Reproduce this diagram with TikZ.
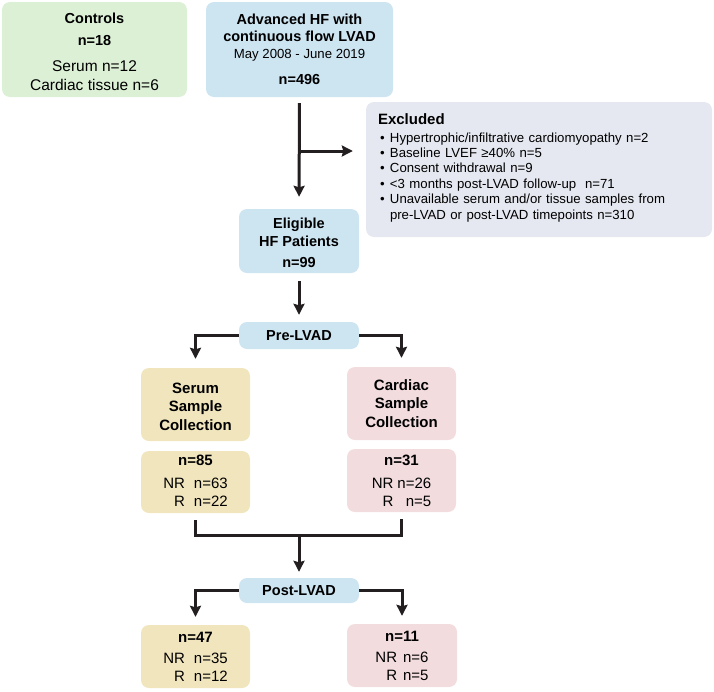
\documentclass[tikz,border=0pt]{standalone}
\usepackage{fontspec}
\setmainfont{Liberation Sans}
\usepackage{xcolor}
\definecolor{hfgreen}{RGB}{220,240,214}
\definecolor{hfblue}{RGB}{205,228,241}
\definecolor{hfgray}{RGB}{229,232,240}
\definecolor{hfyellow}{RGB}{241,229,189}
\definecolor{hfpink}{RGB}{242,220,222}
\definecolor{hfline}{RGB}{35,31,32}
\usetikzlibrary{arrows.meta,calc}

\begin{document}
\begin{tikzpicture}[x=1pt, y=-1pt,
  flowbox/.style={
    rectangle, rounded corners=8pt,
    inner sep=0pt, align=center,
    font=\fontsize{14.5}{17}\selectfont\bfseries,
    text=black
  },
  countbox/.style={flowbox, font=\fontsize{15}{18}\selectfont},
  conn/.style={-{Stealth[length=11pt, width=11pt, inset=1.5pt]}, line width=3pt, draw=hfline},
  link/.style={line width=3pt, draw=hfline}
]
\useasboundingbox (0,0) rectangle (714,691);

% top row
\node[flowbox, fill=hfgreen, minimum width=185pt, minimum height=95pt] (controls) at (94.5,49.5)
  {\rule{0pt}{16pt}Controls\\[5pt]
   n=18\\[9pt]
   {\fontsize{15.5}{19}\selectfont\mdseries Serum n=12}\\[2pt]
   {\fontsize{15.5}{19}\selectfont\mdseries Cardiac tissue n=6}};
\node[flowbox, fill=hfblue, minimum width=187pt, minimum height=95pt] (advhf) at (299.5,49.5)
  {Advanced HF with\\
   continuous flow LVAD\\
   {\fontsize{13.2}{15}\selectfont\mdseries May 2008 - June 2019}\\[9pt]
   n=496};
\node[flowbox, fill=hfgray, minimum width=346pt, minimum height=135pt,
      text width=322pt, align=left, font=\fontsize{13.2}{15.4}\selectfont] (excluded) at (539,169.5)
  {{\fontsize{15}{18}\selectfont\bfseries Excluded}\\[2pt]
   \hspace*{2pt}\makebox[10pt][l]{\textbullet}Hypertrophic/infiltrative cardiomyopathy n=2\\
   \hspace*{2pt}\makebox[10pt][l]{\textbullet}Baseline LVEF ≥40\% n=5\\
   \hspace*{2pt}\makebox[10pt][l]{\textbullet}Consent withdrawal n=9\\
   \hspace*{2pt}\makebox[10pt][l]{\textbullet}<3 months post-LVAD follow-up\ \ n=71\\
   \hspace*{2pt}\makebox[10pt][l]{\textbullet}Unavailable serum and/or tissue samples from\\
   \hspace*{12pt}pre-LVAD or post-LVAD timepoints n=310\rule[-6pt]{0pt}{6pt}};

\node[flowbox, fill=hfblue, minimum width=120pt, minimum height=64pt] (eligible) at (299,241)
  {\rule{0pt}{15pt}Eligible\\[1pt] HF Patients\\[4pt] n=99};
\node[flowbox, fill=hfblue, minimum width=120pt, minimum height=27pt] (pre) at (299,335.5) {Pre-LVAD};

% sample collection
\node[flowbox, fill=hfyellow, minimum width=109pt, minimum height=73pt,
      font=\fontsize{15}{18.5}\selectfont\bfseries] (serum) at (195.5,404.5)
  {\rule{0pt}{15pt}Serum\\ Sample\\ Collection};
\node[flowbox, fill=hfpink, minimum width=109pt, minimum height=73pt,
      font=\fontsize{15}{18.5}\selectfont\bfseries] (cardiac) at (401.5,403.5)
  {Cardiac\\ Sample\\ Collection};
\node[countbox, fill=hfyellow, minimum width=109pt, minimum height=62pt] (serumn) at (195.5,482)
  {\begin{tabular}{@{}r@{\hspace{9pt}}r@{}}
   \multicolumn{2}{@{}c@{}}{\textbf{n=85}}\\[5pt]
   NR & n=63\\
   R & n=22\rule[-4pt]{0pt}{4pt}
   \end{tabular}};
\node[countbox, fill=hfpink, minimum width=109pt, minimum height=63pt] (cardiacn) at (401.5,480.5)
  {\begin{tabular}{@{}r@{\hspace{4pt}}r@{}}
   \multicolumn{2}{@{}c@{}}{\rule{0pt}{16pt}\textbf{n=31}}\\[5pt]
   NR & n=26\\
   R & n=5\rule[-4pt]{0pt}{4pt}
   \end{tabular}};

% post-LVAD
\node[flowbox, fill=hfblue, minimum width=120pt, minimum height=25pt] (post) at (299,590.5) {Post-LVAD};
\node[countbox, fill=hfyellow, minimum width=109pt, minimum height=63pt] (serumpost) at (195.5,656.5)
  {\begin{tabular}{@{}r@{\hspace{9pt}}r@{}}
   \multicolumn{2}{@{}c@{}}{\rule{0pt}{16pt}\textbf{n=47}}\\[3pt]
   NR & n=35\\
   R & n=12\rule[-4pt]{0pt}{4pt}
   \end{tabular}};
\node[countbox, fill=hfpink, minimum width=110pt, minimum height=63pt] (cardiacpost) at (402,655.5)
  {\begin{tabular}{@{}r@{\hspace{6pt}}r@{}}
   \multicolumn{2}{@{}c@{}}{\rule{0pt}{16pt}\textbf{n=11}}\\[3pt]
   NR & n=6\\
   R & n=5\rule[-4pt]{0pt}{4pt}
   \end{tabular}};

% connectors
\coordinate (branch) at (advhf.south |- 0,151);
\coordinate (merge) at (post.north |- 0,535);
\draw[conn, shorten <=6pt, shorten >=12pt] (advhf.south) -- (eligible.north);
\draw[conn, shorten >=13pt] (branch) -- (branch -| excluded.west);
\draw[conn, shorten <=8pt, shorten >=7pt] (eligible.south) -- (pre.north);
\draw[conn, shorten >=9pt] (pre.west) -| (serum.north);
\draw[conn, shorten >=9pt] (pre.east) -| (cardiac.north);
\draw[link, shorten <=7pt, shorten >=7pt] (serumn.south) |- (merge) -| (cardiacn.south);
\draw[conn, shorten >=6pt] (merge) -- (post.north);
\draw[conn, shorten >=8pt] (post.west) -| (serumpost.north);
\draw[conn, shorten >=8pt] (post.east) -| (cardiacpost.north);
\end{tikzpicture}
\end{document}
